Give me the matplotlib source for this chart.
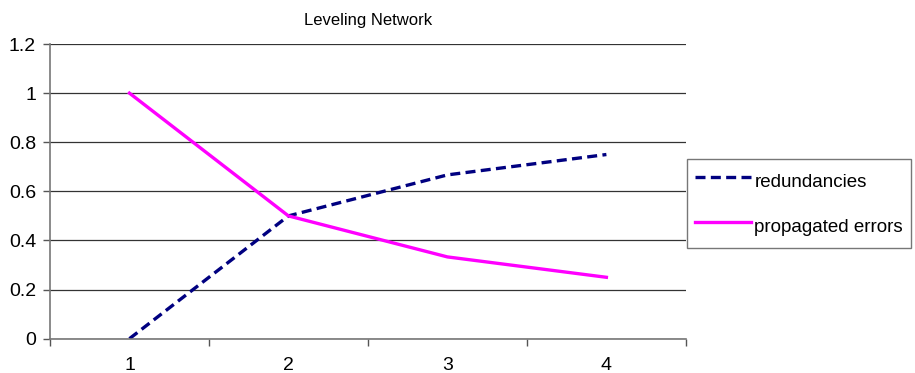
import matplotlib
matplotlib.use("Agg")
import matplotlib.pyplot as plt
import numpy as np

plt.rcParams['font.family'] = ['Liberation Sans', 'DejaVu Sans']

categories = ["1", "2", "3", "4"]
redundancies = [0.0, 0.5, 0.667, 0.75]
propagated_errors = [1.0, 0.5, 0.333, 0.25]

fig = plt.figure(figsize=(9.15, 3.73), dpi=100)
ax = fig.add_axes([0.0546, 0.092, 0.695, 0.790])

x = np.arange(len(categories)) + 0.5
ax.plot(x, redundancies, color='#000080', linestyle=(0, (3, 1.6)), linewidth=2.4,
        label='redundancies', dash_capstyle='butt')
ax.plot(x, propagated_errors, color='#FF00FF', linestyle='-', linewidth=2.4,
        label='propagated errors')

ax.set_xlim(0, len(categories))
ax.set_ylim(0, 1.2)
ax.set_yticks(np.arange(0, 1.21, 0.2))
ax.set_yticklabels(["0", "0.2", "0.4", "0.6", "0.8", "1", "1.2"])
ax.set_xticks(np.arange(0, len(categories) + 1))
ax.set_xticklabels([])
ax.set_xticks(x, minor=True)
ax.set_xticklabels(categories, minor=True)
ax.tick_params(axis='x', which='minor', length=0, pad=13.5, labelsize=14)
ax.tick_params(axis='x', which='major', length=5, width=1, color='#555555', direction='out')
ax.tick_params(axis='y', length=5, width=1, color='#555555', direction='out', labelsize=14, pad=5)

ax.grid(True, axis='y', color='#333333', linewidth=0.9)
ax.set_axisbelow(True)
for s in ['top', 'right']:
    ax.spines[s].set_visible(False)
for s in ['left', 'bottom']:
    ax.spines[s].set_color('#777777')
    ax.spines[s].set_linewidth(1.2)

ax.set_title("Leveling Network", fontsize=12, pad=14)

leg = fig.legend(loc='upper left', bbox_to_anchor=(687 / 915, 1 - 159 / 373), fontsize=13.5,
                 handlelength=3.0, handleheight=2.0, handletextpad=0.2, labelspacing=0.88,
                 borderpad=0.4, borderaxespad=0, frameon=True, fancybox=False)
leg.get_frame().set_edgecolor('#555555')
leg.get_frame().set_linewidth(1.0)

fig.savefig("out.png", dpi=100)
